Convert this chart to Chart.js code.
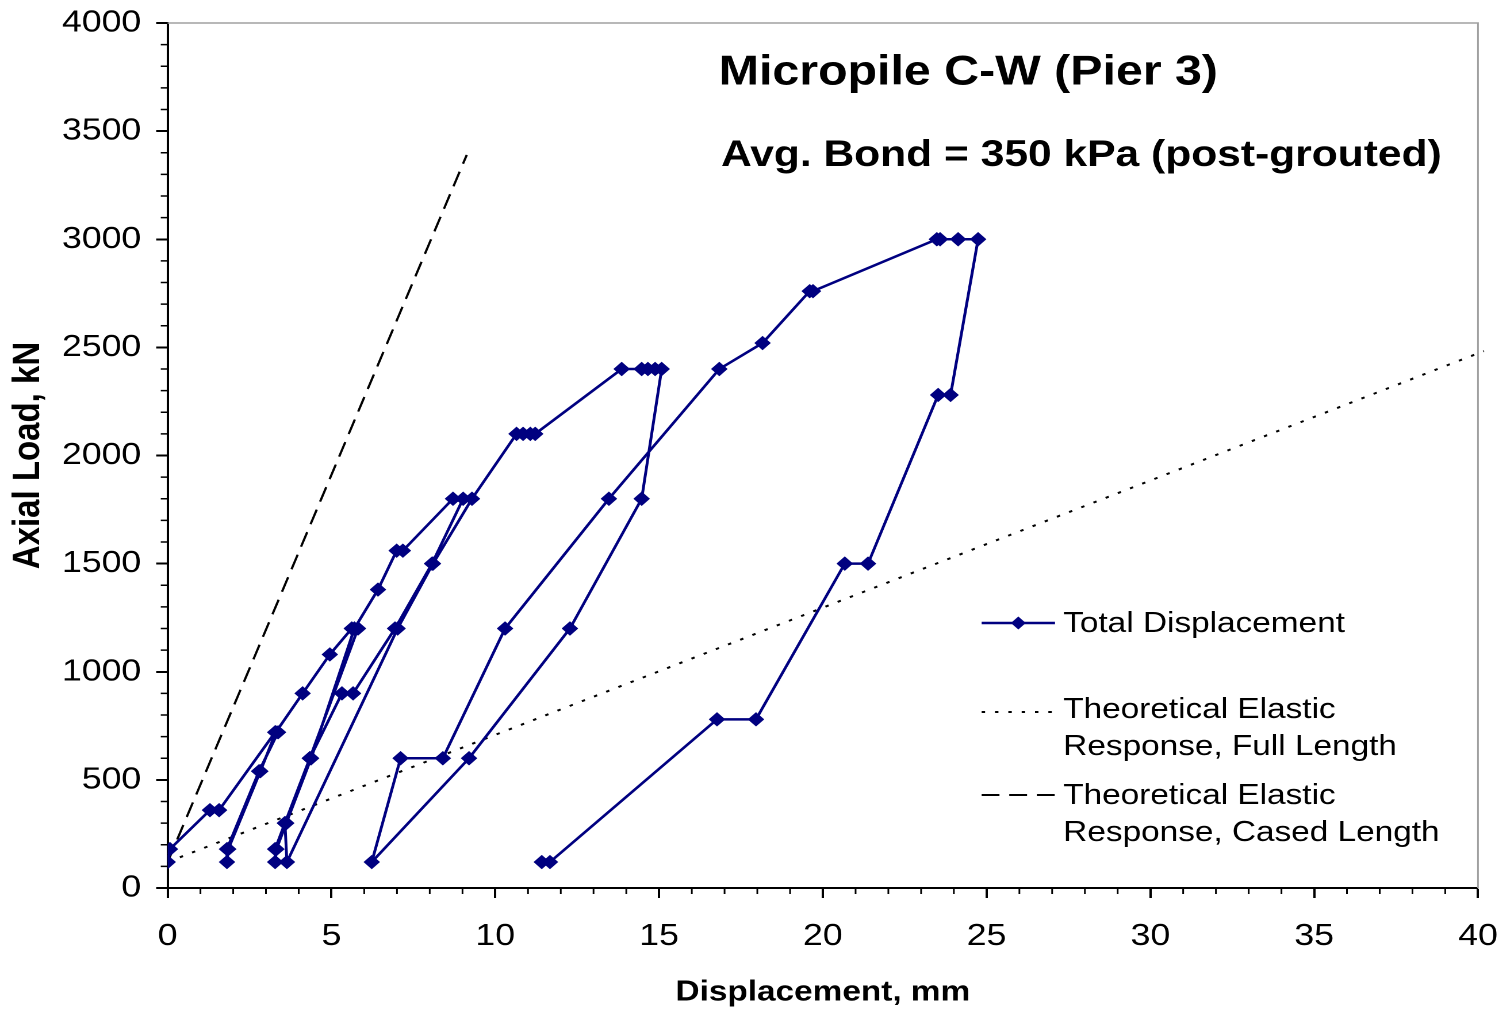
<!DOCTYPE html>
<html>
<head>
<meta charset="utf-8">
<title>Micropile C-W (Pier 3)</title>
<script src="https://cdn.jsdelivr.net/npm/chart.js@4.4.1/dist/chart.umd.min.js"></script>
<style>
   html, body { margin:0; padding:0; background:#fff; overflow:hidden; }
   /* the original picture is a bit wider than tall, stretch it the same way */
   #wrap { width:1312px; height:1010px; transform:scaleX(1.15); transform-origin:0 0; }
</style>
</head>
<body>
<div id="wrap"><canvas id="chart" width="1312" height="1010"></canvas></div>
<script>

/* load test readings, in test order */
let dispMm = [
   0.00, 0.07, 1.29, 1.57, 3.28, 3.37, 2.79, 1.81, 1.81, 1.85,
   2.83, 3.30, 4.12, 4.95, 5.62, 5.81, 4.34, 3.58, 3.28, 3.28,
   3.32, 3.62, 4.38, 5.70, 6.42, 6.99, 7.18, 8.71, 9.02, 8.07,
   6.94, 5.66, 5.32, 4.34, 3.58, 3.64, 7.02, 8.10, 9.29, 10.65,
   10.85, 11.07, 11.22, 13.86, 14.47, 14.66, 14.88, 15.08, 14.47, 12.28,
   9.20, 6.23, 7.11, 8.40, 10.30, 13.47, 16.84, 18.16, 19.60, 19.70,
   23.48, 23.58, 24.13, 24.74, 23.90, 23.52, 21.38, 20.67, 17.96, 16.77,
   11.67, 11.42
];

let loadKn = [
   120, 180, 360, 360, 720, 720, 540, 180, 120, 180,
   540, 720, 900, 1080, 1200, 1200, 600, 300, 180, 120,
   180, 300, 600, 1200, 1380, 1560, 1560, 1800, 1800, 1500,
   1200, 900, 900, 600, 300, 120, 1200, 1500, 1800, 2100,
   2100, 2100, 2100, 2400, 2400, 2400, 2400, 2400, 1800, 1200,
   600, 120, 600, 600, 1200, 1800, 2400, 2520, 2760, 2760,
   3000, 3000, 3000, 3000, 2280, 2280, 1500, 1500, 780, 780,
   120, 120
];

/* theoretical elastic lines */
let fullLenX = [0, 40.18];
let fullLenY = [120, 2483];

let casedLenX = [0, 9.13];
let casedLenY = [120, 3390];

let xTickValues = [0, 5, 10, 15, 20, 25, 30, 35, 40];
let yTickValues = [0, 500, 1000, 1500, 2000, 2500, 3000, 3500, 4000];

let titleLines = [
   "Micropile C-W (Pier 3)",
   "Avg. Bond = 350 kPa (post-grouted)"
];

let legendLabels = [
   ["Total Displacement"],
   ["Theoretical Elastic", "Response, Full Length"],
   ["Theoretical Elastic", "Response, Cased Length"]
];

const NAVY = "#000080";
const FONT = "'Liberation Sans', Arial, sans-serif";

function toPoints(xs, ys){

   return xs.map(function(x, i){
      return {x:x, y:ys[i]};
   });

}

/* small ticks between the labelled ones + grey frame top/right */
let axisExtras = {

   id:"axisExtras",

   beforeDatasetsDraw:function(chart){

      let ctx = chart.ctx;
      let a = chart.chartArea;

      ctx.save();
      ctx.strokeStyle = "#a0a0a0";
      ctx.lineWidth = 1.5;
      ctx.beginPath();
      ctx.moveTo(a.left, a.top);
      ctx.lineTo(a.right, a.top);
      ctx.lineTo(a.right, a.bottom);
      ctx.stroke();
      ctx.restore();

   },

   afterDraw:function(chart){

      let ctx = chart.ctx;
      let a = chart.chartArea;
      let xs = chart.scales.x;
      let ys = chart.scales.y;

      ctx.save();
      ctx.strokeStyle = "#000";
      ctx.lineWidth = 1.5;
      ctx.beginPath();

      for(let v = 1; v < 40; v++){
         if(v % 5 === 0) continue;
         let px = xs.getPixelForValue(v);
         ctx.moveTo(px, a.bottom);
         ctx.lineTo(px, a.bottom + 6);
      }

      for(let v = 100; v < 4000; v += 100){
         if(v % 500 === 0) continue;
         let py = ys.getPixelForValue(v);
         ctx.moveTo(a.left - 6, py);
         ctx.lineTo(a.left, py);
      }

      ctx.stroke();
      ctx.restore();

   }

};

/* title text and the legend box inside the plot */
let textBlock = {

   id:"textBlock",

   afterDraw:function(chart){

      let ctx = chart.ctx;
      let sets = chart.data.datasets;

      ctx.save();
      ctx.fillStyle = "#000";
      ctx.textAlign = "left";
      ctx.textBaseline = "middle";

      ctx.font = "bold 42px " + FONT;
      ctx.fillText(titleLines[0], 625, 73);

      ctx.font = "bold 37px " + FONT;
      ctx.fillText(titleLines[1], 627, 156);

      let rowY = [624, 710, 796];
      let lineY = [623, 712, 795];
      let x0 = 853.6, x1 = 917.4;

      ctx.font = "29px " + FONT;

      legendLabels.forEach(function(lines, i){

         let ds = sets[i];

         ctx.save();
         ctx.strokeStyle = ds.borderColor;
         ctx.lineWidth = ds.borderWidth;
         ctx.setLineDash(ds.borderDash || []);
         ctx.beginPath();
         ctx.moveTo(x0, lineY[i]);
         ctx.lineTo(x1, lineY[i]);
         ctx.stroke();
         ctx.restore();

         if(ds.pointRadius > 0){
            let cx = (x0 + x1) / 2, cy = lineY[i], r = ds.pointRadius;
            ctx.beginPath();
            ctx.moveTo(cx, cy - r);
            ctx.lineTo(cx + r, cy);
            ctx.lineTo(cx, cy + r);
            ctx.lineTo(cx - r, cy);
            ctx.closePath();
            ctx.fillStyle = ds.pointBackgroundColor;
            ctx.fill();
            ctx.fillStyle = "#000";
         }

         lines.forEach(function(t, k){
            ctx.fillText(t, 924.5, rowY[i] + k * 37);
         });

      });

      ctx.restore();

   }

};

Chart.defaults.font.family = FONT;
Chart.defaults.color = "#000";

let ctx = document.getElementById("chart").getContext("2d");

new Chart(ctx, {

   type:"scatter",

   data:{

      datasets:[

         {
            label:"Total Displacement",
            data:toPoints(dispMm, loadKn),
            showLine:true,
            borderColor:NAVY,
            borderWidth:2.5,
            pointStyle:"rectRot",
            pointRadius:6.5,
            pointBorderWidth:1,
            pointBackgroundColor:NAVY,
            pointBorderColor:NAVY,
            order:0
         },

         {
            label:"Theoretical Elastic Response, Full Length",
            data:toPoints(fullLenX, fullLenY),
            showLine:true,
            borderColor:"#000",
            borderWidth:2,
            borderDash:[3, 8.6],
            pointRadius:0,
            clip:false,
            order:1
         },

         {
            label:"Theoretical Elastic Response, Cased Length",
            data:toPoints(casedLenX, casedLenY),
            showLine:true,
            borderColor:"#000",
            borderWidth:2,
            borderDash:[15.5, 8.5],
            pointRadius:0,
            order:2
         }

      ]

   },

   options:{

      responsive:false,
      devicePixelRatio:2,
      animation:false,
      events:[],

      layout:{
         padding:{left:0, right:26.8, top:23, bottom:0}
      },

      plugins:{
         legend:{display:false},
         title:{display:false},
         tooltip:{enabled:false}
      },

      scales:{

         x:{
            type:"linear",
            min:0,
            max:40,
            afterBuildTicks:function(s){
               s.ticks = xTickValues.map(v => ({value:v}));
            },
            afterFit:function(s){
               s.height = 122;
               s.paddingLeft = 0;
               s.paddingRight = 0;
            },
            ticks:{
               autoSkip:false,
               maxRotation:0,
               padding:20,
               font:{size:31},
               callback:function(v){
                  return String(v);
               }
            },
            grid:{
               drawOnChartArea:false,
               tickLength:10,
               tickWidth:2,
               tickColor:"#000"
            },
            border:{color:"#000", width:2},
            title:{
               display:true,
               text:"Displacement, mm",
               font:{size:29, weight:"bold"},
               padding:{top:0, bottom:0}
            }
         },

         y:{
            type:"linear",
            min:0,
            max:4000,
            afterBuildTicks:function(s){
               s.ticks = yTickValues.map(v => ({value:v}));
            },
            afterFit:function(s){
               s.width = 145.8;
               s.paddingTop = 0;
               s.paddingBottom = 0;
            },
            ticks:{
               autoSkip:false,
               padding:13,
               font:{size:31},
               callback:function(v){
                  return String(v);
               }
            },
            grid:{
               drawOnChartArea:false,
               tickLength:10,
               tickWidth:2,
               tickColor:"#000"
            },
            border:{color:"#000", width:2},
            title:{
               display:true,
               text:"Axial Load, kN",
               font:{size:33, weight:"bold"},
               padding:{top:5, bottom:0}
            }
         }

      }

   },

   plugins:[axisExtras, textBlock]

});

</script>
</body>
</html>
